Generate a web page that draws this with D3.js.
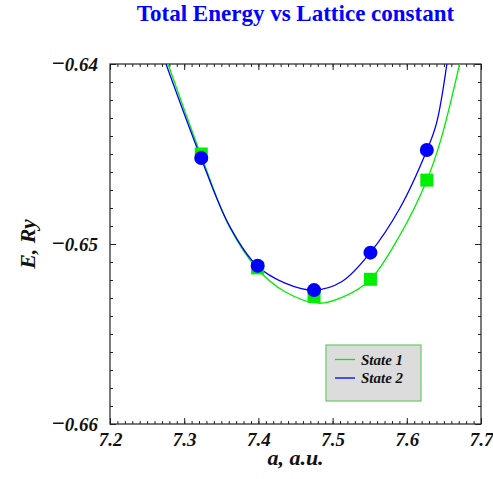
<!DOCTYPE html>
<html>
<head>
<meta charset="utf-8">
<script src="https://cdn.jsdelivr.net/npm/d3@7"></script>
<style>
  html, body { margin: 0; padding: 0; background: #fff; }
  svg { display: block; }
</style>
</head>
<body>
<svg id="chart" width="493" height="479"></svg>
<script>
// ---- data ----
const xTicks = [7.2, 7.3, 7.4, 7.5, 7.6, 7.7];
const yTicks = [-0.64, -0.65, -0.66];
const seriesNames = ["State 1", "State 2"];

// measured points
const aPoints = [7.323, 7.399, 7.475, 7.551, 7.627];
const state1Points = [-0.64500, -0.65133, -0.65291, -0.65196, -0.64645];
const state2Points = [-0.64522, -0.65121, -0.65256, -0.65048, -0.64478];

// fitted curves
const aCurve1 = [7.2782, 7.3226, 7.3604, 7.3981, 7.4359, 7.4810, 7.5127, 7.5504, 7.5908, 7.6272, 7.6461, 7.6712];
const eCurve1 = [-0.6400, -0.64506, -0.64900, -0.65136, -0.65265, -0.65329, -0.65297, -0.65200, -0.64950, -0.64644, -0.64417, -0.6400];
const aCurve2 = [7.2755, 7.3226, 7.3604, 7.3981, 7.4359, 7.4749, 7.5127, 7.5504, 7.5908, 7.6272, 7.6400, 7.6540];
const eCurve2 = [-0.6400, -0.64522, -0.64895, -0.65121, -0.65217, -0.65256, -0.65208, -0.65050, -0.64800, -0.64478, -0.64330, -0.6400];

// ---- layout ----
const svg = d3.select("#chart");
const L = 110, R = 481, T = 64, B = 424;
const green = "#00ee00", blue = "#0000ff";
const font = "'Liberation Serif', 'Times New Roman', serif";

const x = d3.scaleLinear().domain([7.2, 7.7]).range([L, R]);
const y = d3.scaleLinear().domain([-0.66, -0.64]).range([B, T]);

const xMinor = d3.range(0, 51).map(i => 7.2 + i * 0.01);
const yMinor = d3.range(0, 21).map(i => -0.66 + i * 0.001);

// title
svg.append("text")
  .attr("x", (L + R) / 2).attr("y", 21)
  .attr("text-anchor", "middle")
  .style("font-family", font).style("font-weight", "bold")
  .style("font-size", "23px").attr("fill", blue)
  .text("Total Energy vs Lattice constant");

// clip
svg.append("defs").append("clipPath").attr("id", "clip")
  .append("rect").attr("x", L).attr("y", T).attr("width", R - L).attr("height", B - T);

// axes helper
function styleAxis(g) {
  g.select(".domain").remove();
  g.selectAll(".tick line").attr("stroke", "#222").attr("stroke-width", 1);
  g.selectAll("text")
    .style("font-family", font).style("font-weight", "bold")
    .style("font-style", "italic").style("font-size", "19px").attr("fill", "#111");
}

// minor ticks
svg.append("g").attr("transform", `translate(0,${B})`)
  .call(d3.axisBottom(x).tickValues(xMinor).tickSize(-3).tickFormat(""))
  .call(styleAxis);
svg.append("g").attr("transform", `translate(0,${T})`)
  .call(d3.axisTop(x).tickValues(xMinor).tickSize(-3).tickFormat(""))
  .call(styleAxis);
svg.append("g").attr("transform", `translate(${L},0)`)
  .call(d3.axisLeft(y).tickValues(yMinor).tickSize(-3).tickFormat(""))
  .call(styleAxis);
svg.append("g").attr("transform", `translate(${R},0)`)
  .call(d3.axisRight(y).tickValues(yMinor).tickSize(-3).tickFormat(""))
  .call(styleAxis);

// major ticks
svg.append("g").attr("transform", `translate(0,${B})`)
  .call(d3.axisBottom(x).tickValues(xTicks).tickSize(-6).tickPadding(9).tickFormat(d3.format(".1f")))
  .call(styleAxis);
svg.append("g").attr("transform", `translate(0,${T})`)
  .call(d3.axisTop(x).tickValues(xTicks).tickSize(-6).tickFormat(""))
  .call(styleAxis);
const yAxisG = svg.append("g").attr("transform", `translate(${L},0)`)
  .call(d3.axisLeft(y).tickValues(yTicks).tickSize(-6).tickPadding(12).tickFormat(d3.format(".2f")))
  .call(styleAxis);
// longer minus sign, as in the reference
yAxisG.selectAll(".tick text").each(function() {
  const t = d3.select(this);
  const str = t.text();
  if (str.startsWith("\u2212") || str.startsWith("-")) {
    t.text(null);
    t.append("tspan").style("font-size", "23px").style("font-style", "normal").text("\u2212");
    t.append("tspan").text(str.slice(1));
  }
});
svg.append("g").attr("transform", `translate(${R},0)`)
  .call(d3.axisRight(y).tickValues(yTicks).tickSize(-6).tickFormat(""))
  .call(styleAxis);

// frame
svg.append("rect").attr("x", L).attr("y", T).attr("width", R - L).attr("height", B - T)
  .attr("fill", "none").attr("stroke", "#222").attr("stroke-width", 1.2);

// axis titles
svg.append("text")
  .attr("x", (L + R) / 2).attr("y", 465)
  .attr("text-anchor", "middle")
  .style("font-family", font).style("font-weight", "bold").style("font-style", "italic")
  .style("font-size", "22px").attr("fill", "#111")
  .text("a, a.u.");
svg.append("text")
  .attr("transform", `translate(35,${(T + B) / 2}) rotate(-90)`)
  .attr("text-anchor", "middle")
  .style("font-family", font).style("font-weight", "bold").style("font-style", "italic")
  .style("font-size", "22px").attr("fill", "#111")
  .text("E, Ry");

// curves
const line = d3.line().x(d => x(d[0])).y(d => y(d[1])).curve(d3.curveCatmullRom.alpha(0.5));
const plot = svg.append("g").attr("clip-path", "url(#clip)");
const c1 = aCurve1.map((a, i) => [a, eCurve1[i]]);
const c2 = aCurve2.map((a, i) => [a, eCurve2[i]]);

plot.append("path").datum(c1).attr("d", line)
  .attr("fill", "none").attr("stroke", green).attr("stroke-width", 1.3);

const s = 13;
svg.append("g").selectAll("rect").data(aPoints.map((a, i) => [a, state1Points[i]]))
  .join("rect")
  .attr("x", d => x(d[0]) - s / 2).attr("y", d => y(d[1]) - s / 2)
  .attr("width", s).attr("height", s).attr("fill", green);

plot.append("path").datum(c2).attr("d", line)
  .attr("fill", "none").attr("stroke", blue).attr("stroke-width", 1.3);

svg.append("g").selectAll("circle").data(aPoints.map((a, i) => [a, state2Points[i]]))
  .join("circle")
  .attr("cx", d => x(d[0])).attr("cy", d => y(d[1]))
  .attr("r", 7).attr("fill", blue);

// legend
const lg = svg.append("g");
lg.append("rect").attr("x", 326).attr("y", 345).attr("width", 95).attr("height", 56)
  .attr("fill", "#dcdcdc").attr("stroke", "#66cc66").attr("stroke-width", 1.2);
[green, blue].forEach((c, i) => {
  const yy = 359.5 + i * 18.5;
  lg.append("line").attr("x1", 335).attr("x2", 355).attr("y1", yy).attr("y2", yy)
    .attr("stroke", c).attr("stroke-width", 1.3);
  lg.append("text").attr("x", 361).attr("y", yy + 5)
    .style("font-family", font).style("font-weight", "bold").style("font-style", "italic")
    .style("font-size", "15px").attr("fill", "#111")
    .text(seriesNames[i]);
});
</script>
</body>
</html>
